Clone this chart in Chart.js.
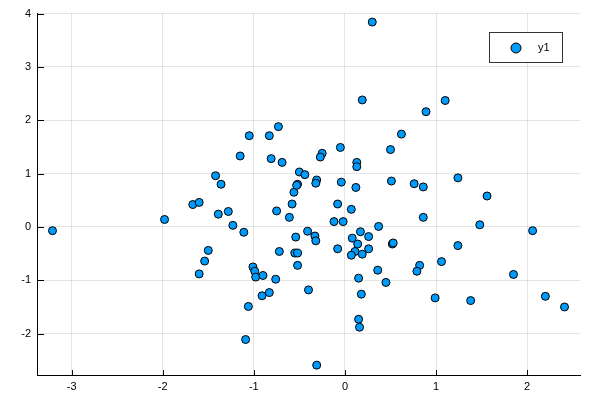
<!DOCTYPE html>
<html>
<head>
<meta charset="utf-8">
<script src="https://cdn.jsdelivr.net/npm/chart.js@4"></script>
<style>
  html, body { margin: 0; padding: 0; background: #fff; }
  #wrap { width: 600px; height: 400px; }
</style>
</head>
<body>
<div id="wrap"><canvas id="graph1" width="600" height="400"></canvas></div>
<script>
// valores
var xs = [0.30, 0.19, -0.73, -1.05, -0.83, 0.62, -1.15, -0.81, -0.69, -0.05,
          -0.25, -0.27, 0.13, 0.13, 0.50, -1.42, -1.36, -0.50, -0.44, -0.31,
          -0.32, -0.52, -0.56, -0.04, 0.12, 0.51, 1.10, 0.89, 0.76, 0.86,
          1.24, 1.56, -3.21, -1.98, -1.67, -1.60, -1.60, 0.86, 1.48, 2.06,
          1.24, 1.06, 0.82, 0.79, 1.85, 0.99, 1.38, 2.20, 2.41, -0.58,
          -0.08, 0.07, -1.39, -1.28, -0.75, -0.61, -1.23, -1.11, -0.12, -0.02,
          0.37, -0.41, -0.54, -0.33, -0.32, 0.08, 0.17, 0.26, 0.14, 0.52,
          0.53, -1.50, -1.54, -0.72, -0.55, -0.52, -0.52, -0.08, 0.11, 0.07,
          0.19, 0.26, -1.01, -0.99, -0.98, -0.90, -0.76, -0.91, -0.83, -0.40,
          -1.06, -1.09, -0.31, 0.15, 0.18, 0.15, 0.16, 0.36, 0.45, -0.53];
var ys = [3.84, 2.38, 1.88, 1.71, 1.71, 1.74, 1.33, 1.28, 1.21, 1.49,
          1.38, 1.31, 1.21, 1.13, 1.45, 0.96, 0.80, 1.03, 0.98, 0.88,
          0.82, 0.80, 0.65, 0.84, 0.74, 0.86, 2.37, 2.16, 0.81, 0.75,
          0.92, 0.58, -0.07, 0.14, 0.42, 0.46, -0.88, 0.18, 0.04, -0.07,
          -0.35, -0.65, -0.72, -0.83, -0.89, -1.33, -1.38, -1.30, -1.50, 0.43,
          0.43, 0.33, 0.24, 0.29, 0.30, 0.18, 0.03, -0.10, 0.10, 0.10,
          0.01, -0.08, -0.19, -0.17, -0.26, -0.21, -0.09, -0.18, -0.32, -0.32,
          -0.30, -0.44, -0.64, -0.46, -0.49, -0.49, -0.72, -0.41, -0.46, -0.53,
          -0.51, -0.41, -0.75, -0.83, -0.94, -0.91, -0.98, -1.29, -1.23, -1.18,
          -1.49, -2.11, -2.59, -0.96, -1.26, -1.73, -1.88, -0.81, -1.04, 0.78];
var seriesName = 'y1';

var pontos = xs.map(function (x, i) { return { x: x, y: ys[i] }; });

// marcas de escala para dentro + legenda com caixa
var juliaStyle = {
    id: 'juliaStyle',
    afterDatasetsDraw: function (chart) {
        var ctx = chart.ctx, a = chart.chartArea;
        var sx = chart.scales.x, sy = chart.scales.y;
        ctx.save();
        ctx.strokeStyle = '#000';
        ctx.lineWidth = 1;
        sx.ticks.forEach(function (t) {
            var px = Math.round(sx.getPixelForValue(t.value)) + 0.5;
            ctx.beginPath(); ctx.moveTo(px, a.bottom); ctx.lineTo(px, a.bottom - 5); ctx.stroke();
        });
        sy.ticks.forEach(function (t) {
            var py = Math.round(sy.getPixelForValue(t.value)) + 0.5;
            ctx.beginPath(); ctx.moveTo(a.left, py); ctx.lineTo(a.left + 7, py); ctx.stroke();
        });
        // legenda
        var bx = 489.5, by = 32.5, bw = 73, bh = 30;
        ctx.fillStyle = '#fff';
        ctx.fillRect(bx, by, bw, bh);
        ctx.strokeStyle = '#333';
        ctx.strokeRect(bx, by, bw, bh);
        ctx.beginPath();
        ctx.arc(516, 48, 5, 0, Math.PI * 2);
        ctx.fillStyle = '#009AFA';
        ctx.fill();
        ctx.strokeStyle = '#000';
        ctx.stroke();
        ctx.fillStyle = '#000';
        ctx.font = '11px "Liberation Sans", sans-serif';
        ctx.textBaseline = 'middle';
        ctx.fillText(seriesName, 538, 48);
        ctx.restore();
    }
};

var scatterCtx = document.getElementById('graph1').getContext('2d');
var scatterChart = new Chart(scatterCtx, {
    type: 'scatter',
    data: {
        datasets: [{
            label: seriesName,
            data: pontos,
            backgroundColor: '#009AFA',
            borderColor: '#000',
            borderWidth: 1,
            pointRadius: 4,
            pointHoverRadius: 4
        }]
    },
    options: {
        responsive: false,
        maintainAspectRatio: false,
        animation: false,
        layout: { padding: { top: 13, right: 20, left: 0, bottom: 0 } },
        plugins: {
            legend: { display: false },
            tooltip: { enabled: false }
        },
        scales: {
            x: {
                min: -3.38,
                max: 2.58,
                afterFit: function (s) { s.height = 25; },
                ticks: {
                    stepSize: 1,
                    includeBounds: false,
                    padding: 5,
                    color: '#000',
                    font: { family: '"Liberation Sans", sans-serif', size: 11 }
                },
                grid: { color: 'rgba(0,0,0,0.1)', drawTicks: false },
                border: { color: '#000', width: 1 }
            },
            y: {
                min: -2.775,
                max: 4.01,
                afterFit: function (s) { s.width = 37; },
                ticks: {
                    stepSize: 1,
                    includeBounds: false,
                    padding: 6,
                    color: '#000',
                    font: { family: '"Liberation Sans", sans-serif', size: 11 }
                },
                grid: { color: 'rgba(0,0,0,0.1)', drawTicks: false },
                border: { color: '#000', width: 1 }
            }
        }
    },
    plugins: [juliaStyle]
});
</script>
</body>
</html>
